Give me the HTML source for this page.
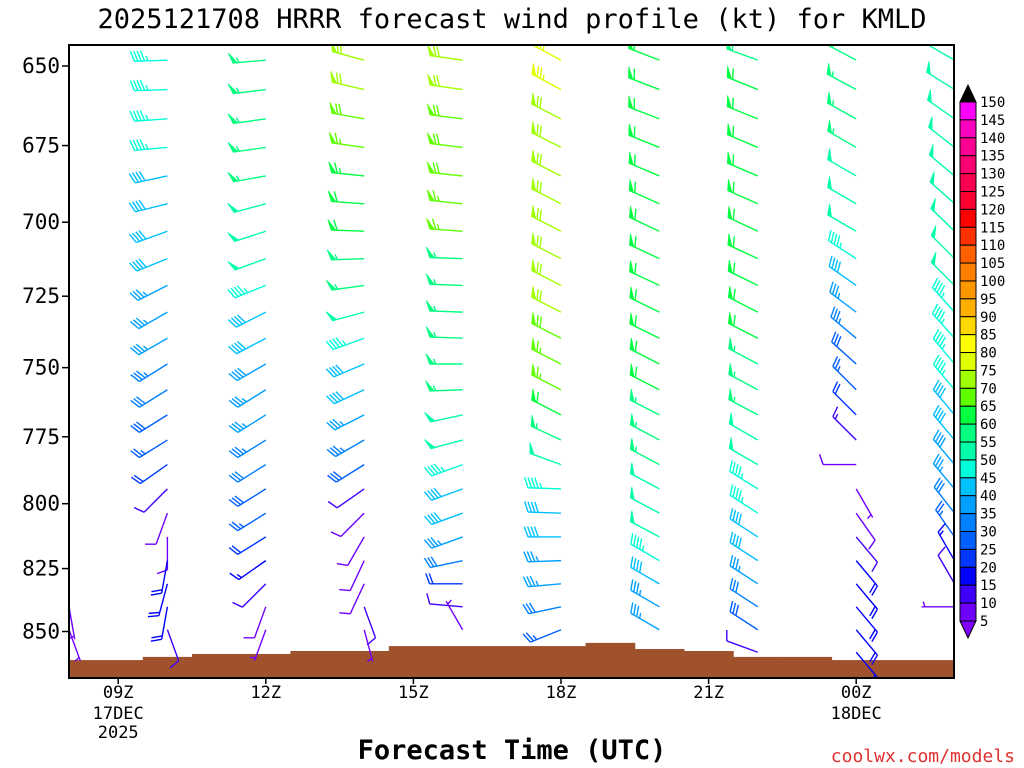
<!DOCTYPE html>
<html><head><meta charset="utf-8"><style>
html,body{margin:0;padding:0;background:#fff;}
svg{display:block;font-family:"DejaVu Sans Mono","Liberation Mono",monospace;}
</style></head><body>
<svg id="chart" width="1024" height="768" viewBox="0 0 1024 768" xmlns="http://www.w3.org/2000/svg">
<text x="512" y="28" font-size="27" text-anchor="middle" fill="#000">2025121708 HRRR forecast wind profile (kt) for KMLD</text>
<defs><clipPath id="plotclip"><rect x="69" y="45" width="885" height="633"/></clipPath></defs>
<g id="terrain" clip-path="url(#plotclip)"></g>
<g id="barbs" clip-path="url(#plotclip)"></g>
<rect x="69" y="45" width="885" height="633" fill="none" stroke="#000" stroke-width="2"/>
<g id="yaxis"></g>
<g id="xaxis"></g>
<g id="cbar"></g>
<text x="512" y="759" font-size="27" text-anchor="middle" font-weight="bold" fill="#000">Forecast Time (UTC)</text>
<text x="1015" y="762" font-size="18" text-anchor="end" fill="#e03030">coolwx.com/models</text>
</svg>
<script>
// ---- data ----
const yTicks = [650, 675, 700, 725, 750, 775, 800, 825, 850];
const xTickHours = [9, 12, 15, 18, 21, 24];
const xTickLabels = ["09Z", "12Z", "15Z", "18Z", "21Z", "00Z"];
const terrainHours = [8,9,10,11,12,13,14,15,16,17,18,19,20,21,22,23,24,25,26];
const surfacePressure = [861.6,861.6,860.3,859.1,859.1,857.9,857.9,855.9,855.9,855.9,855.9,854.6,857.1,857.9,860.3,860.3,861.6,861.6,861.6];
const barbHours = [8,10,12,14,16,18,20,22,24,26];
const levelPressure = [648.2,657.3,666.5,675.6,684.8,693.9,703.0,712.2,721.3,730.5,739.6,748.7,757.9,767.0,776.2,785.3,794.4,803.6,812.7,821.9,831.0,840.1,849.3,858.4];
const N = null;
const speed08 = [N,N,N,N,N,N,N,N,N,N,N,N,N,N,N,N,N,N,N,N,N,5,5,N];
const dir08   = [N,N,N,N,N,N,N,N,N,N,N,N,N,N,N,N,N,N,N,N,N,170,160,N];
const speed10 = [47,47,47,47,42,42,40,40,37,37,35,33,32,28,25,22,12,8,8,18,18,18,10,N];
const dir10   = [268,268,266,265,258,256,250,248,243,240,240,238,238,238,238,235,225,200,180,190,195,190,160,N];
const speed12 = [55,55,55,55,55,50,50,50,47,42,40,38,36,36,33,30,28,25,20,15,10,8,5,N];
const dir12   = [265,263,262,262,260,255,252,250,248,243,242,240,238,238,238,238,238,238,238,235,225,200,200,N];
const speed14 = [72,70,68,65,63,62,60,57,55,50,47,42,40,37,33,28,12,8,8,8,8,10,5,N];
const dir14   = [285,283,280,278,276,274,272,268,262,255,250,247,245,243,240,238,235,225,210,205,205,160,165,N];
const speed16 = [70,70,68,68,68,65,65,55,55,55,55,55,55,50,50,47,42,40,37,30,22,12,5,N];
const dir16   = [278,278,277,277,276,276,274,272,272,272,272,270,268,258,255,250,250,250,250,258,270,275,330,N];
const speed18 = [75,75,70,70,70,70,70,70,70,70,68,65,65,60,57,50,45,42,40,37,35,32,25,N];
const dir18   = [298,298,297,297,297,297,297,297,297,297,297,297,297,297,295,290,272,272,270,268,265,258,248,N];
const speed20 = [60,60,60,60,60,60,60,60,60,60,60,60,60,57,55,55,50,50,50,45,40,37,35,N];
const dir20   = [291,291,291,292,293,294,295,295,295,296,296,297,297,297,298,298,298,298,298,300,300,300,300,N];
const speed22 = [55,60,60,60,60,60,60,60,60,60,60,55,55,55,50,50,47,45,42,40,35,32,28,10];
const dir22   = [290,292,292,293,293,294,295,295,296,297,297,298,298,298,300,300,302,303,303,303,303,303,303,290];
const speed00 = [55,55,55,55,50,50,50,47,42,37,33,28,25,20,13,8,5,8,10,18,18,18,18,18];
const dir00   = [298,298,299,300,300,300,300,303,305,307,310,312,315,315,315,270,150,145,140,140,140,140,140,140];
const speed02 = [52,52,52,52,52,50,50,50,50,47,47,47,45,42,40,38,35,30,25,15,10,5,N,N];
const dir02   = [300,302,305,308,310,312,314,315,315,318,318,320,320,320,320,320,320,322,325,330,330,270,N,N];
const speedCols = [speed08,speed10,speed12,speed14,speed16,speed18,speed20,speed22,speed00,speed02];
const dirCols = [dir08,dir10,dir12,dir14,dir16,dir18,dir20,dir22,dir00,dir02];
const cbarValues = [150,145,140,135,130,125,120,115,110,105,100,95,90,85,80,75,70,65,60,55,50,45,40,35,30,25,20,15,10,5];
const cbarColors = ["#ff00ff","#ff00c0","#ff0090","#ff0070","#ff0050","#ff0030","#ff0000","#ff3000","#ff6000","#ff8000","#ff9800","#ffb000","#ffd800","#ffff00","#e0ff00","#a0ff00","#60ff00","#00ff40","#00ff80","#00ffa8","#00ffd8","#00c0ff","#00a0ff","#0080ff","#0060ff","#0038ff","#0000ff","#4000ff","#7000ff","#8000ff"];

const NS = "http://www.w3.org/2000/svg";
const X0 = 69, PXH = 49.2;
function xScale(h){ return X0 + (h - 8) * PXH; }
function yScale(p){ return 66 + 2108 * Math.log(p / 650); }
function mk(tag, attrs, parent){ const e = document.createElementNS(NS, tag); for (const k in attrs) e.setAttribute(k, attrs[k]); parent.appendChild(e); return e; }
function colorFor(s){
  if (s < 5) return cbarColors[cbarColors.length - 1];
  for (let i = 0; i < cbarValues.length - 1; i++) {
    if (s >= cbarValues[i + 1] && s < cbarValues[i]) return cbarColors[i];
  }
  return "#000";
}

// terrain
const tg = document.getElementById("terrain");
terrainHours.forEach((h, i) => {
  const y = yScale(surfacePressure[i]);
  const r = mk("rect", {x: xScale(h - 0.5), y: y, width: PXH + 0.5, height: 700 - y, fill: "#a0522d"}, tg);
  
  
});

// barbs
const bg = document.getElementById("barbs");
const L = 33, BL = 11, SP = 3.4;
function drawBarb(x0, y0, dir, spd){
  const g = mk("g", {}, bg);
  
  
  const col = colorFor(spd);
  const a = dir * Math.PI / 180;
  const ux = Math.sin(a), uy = -Math.cos(a);
  const px = -uy, py = ux;
  const tx = x0 + L * ux, ty = y0 + L * uy;
  mk("line", {x1: x0, y1: y0, x2: tx, y2: ty, stroke: col, "stroke-width": 1.4}, g);
  let r = Math.round(spd / 5) * 5;
  const flags = Math.floor(r / 50); r -= flags * 50;
  const full = Math.floor(r / 10); r -= full * 10;
  const half = r >= 5;
  const vx = px * 0.94 + ux * 0.34, vy = py * 0.94 + uy * 0.34;
  let d = 0;
  for (let i = 0; i < flags; i++) {
    const bx = tx - d * ux, by = ty - d * uy;
    const ex = bx - 4.5 * ux, ey = by - 4.5 * uy;
    mk("polygon", {points: `${bx},${by} ${bx + BL * vx},${by + BL * vy} ${ex},${ey}`, fill: col, stroke: col, "stroke-width": 0.8}, g);
    d += 6;
  }
  if (flags === 0 && full === 0 && half) d += SP;
  for (let i = 0; i < full; i++) {
    const bx = tx - d * ux, by = ty - d * uy;
    mk("line", {x1: bx, y1: by, x2: bx + BL * vx, y2: by + BL * vy, stroke: col, "stroke-width": 1.4}, g);
    d += SP;
  }
  if (half) {
    const bx = tx - d * ux, by = ty - d * uy;
    mk("line", {x1: bx, y1: by, x2: bx + BL * 0.5 * vx, y2: by + BL * 0.5 * vy, stroke: col, "stroke-width": 1.4}, g);
  }
}
barbHours.forEach((h, c) => {
  const sp = speedCols[c], dr = dirCols[c];
  levelPressure.forEach((p, k) => {
    if (sp[k] === null || dr[k] === null) return;
    drawBarb(xScale(h), yScale(p), dr[k], sp[k]);
  });
});

// y axis
const ya = document.getElementById("yaxis");
yTicks.forEach(v => {
  const y = yScale(v);
  const t = mk("line", {x1: 62, y1: y, x2: 69, y2: y, stroke: "#000", "stroke-width": 1.5}, ya);
  
  
  const l = mk("text", {x: 60, y: y + 7, "font-size": 21, "text-anchor": "end", fill: "#000"}, ya);
  l.textContent = String(v);
  
  
});

// x axis
const xa = document.getElementById("xaxis");
xTickHours.forEach((h, i) => {
  const x = xScale(h);
  const t = mk("line", {x1: x, y1: 678, x2: x, y2: 684, stroke: "#000", "stroke-width": 1.5}, xa);
  
  
  const l = mk("text", {x: x, y: 698, "font-size": 17, "text-anchor": "middle", fill: "#000"}, xa);
  l.textContent = xTickLabels[i];
  
  
});
[["17DEC", 9, 719], ["2025", 9, 738], ["18DEC", 24, 719]].forEach(s => {
  const l = mk("text", {x: xScale(s[1]), y: s[2], "font-size": 17, "text-anchor": "middle", fill: "#000"}, xa);
  l.textContent = s[0];
  
  
});

// colorbar
const cb = document.getElementById("cbar");
const CX = 960, CW = 16, CT = 102, CB = 621;
const bh = (CB - CT) / (cbarValues.length - 1);
const cbTop = mk("polygon", {points: `${CX},${CT} ${CX + CW / 2},${CT - 17} ${CX + CW},${CT}`, fill: "#000", stroke: "#000"}, cb);


for (let i = 0; i < cbarValues.length - 1; i++) {
  const r = mk("rect", {x: CX, y: CT + i * bh, width: CW, height: bh, fill: cbarColors[i], stroke: "#000", "stroke-width": 1}, cb);
  
  
}
const cbBot = mk("polygon", {points: `${CX},${CB} ${CX + CW / 2},${CB + 17} ${CX + CW},${CB}`, fill: cbarColors[cbarColors.length - 1], stroke: "#000"}, cb);


cbarValues.forEach((v, i) => {
  const l = mk("text", {x: 980, y: CT + i * bh + 5, "font-size": 14, fill: "#000"}, cb);
  l.textContent = String(v);
  
  
});
</script>
</body></html>
